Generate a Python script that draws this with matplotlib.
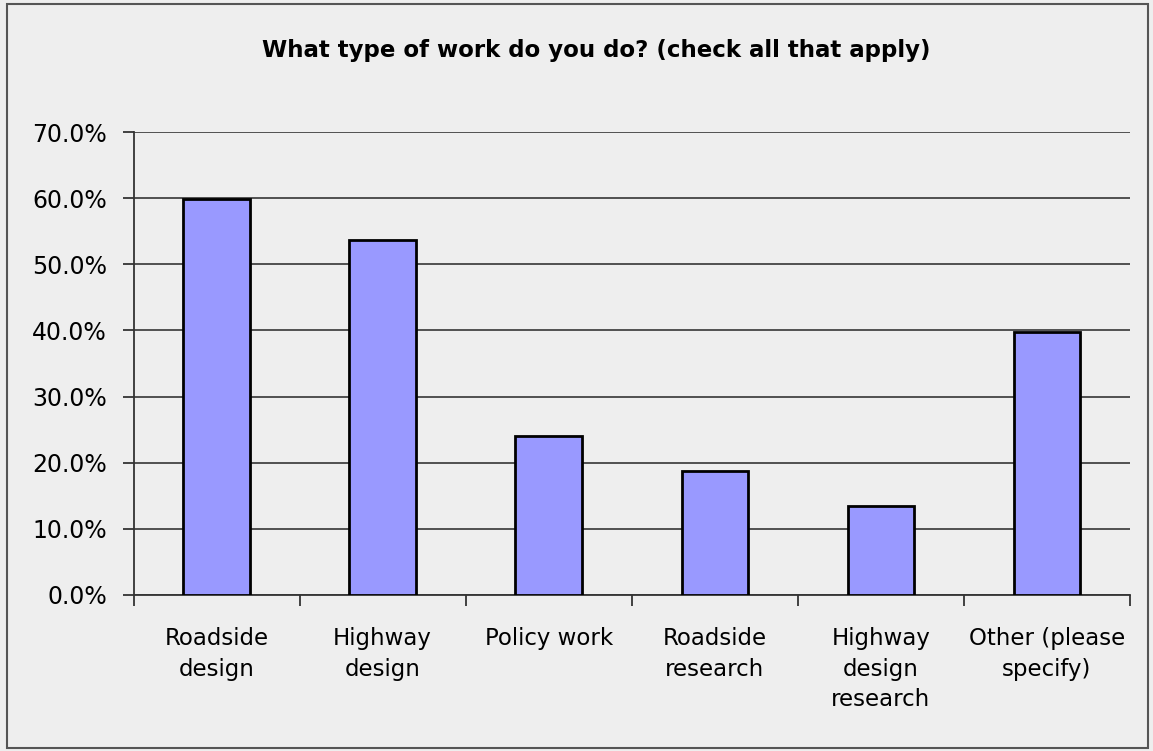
import matplotlib
matplotlib.use("Agg")
import matplotlib.pyplot as plt
from matplotlib.patches import Rectangle
from matplotlib.ticker import FuncFormatter, FixedLocator

categories = ["Roadside\ndesign", "Highway\ndesign", "Policy work", "Roadside\nresearch",
              "Highway\ndesign\nresearch", "Other (please\nspecify)"]
values = [59.8, 53.7, 24.0, 18.7, 13.5, 39.8]
title = "What type of work do you do? (check all that apply)"

bg = "#EEEEEE"
fig = plt.figure(figsize=(11.53, 7.51), dpi=100, facecolor=bg)
fig.patches.append(Rectangle((7/1153, 3/751), 1141/1153, 744/751, transform=fig.transFigure,
                             fill=False, edgecolor="#555555", linewidth=1.5))
ax = fig.add_axes([133.5/1153, 1-595/751, (1130-133.5)/1153, (595-132)/751])
ax.set_facecolor(bg)

x = list(range(len(categories)))
ax.bar(x, values, width=0.4, color="#9999FF", edgecolor="black", linewidth=2, zorder=3)
ax.set_xlim(-0.5, len(categories) - 0.5)
ax.set_ylim(0, 70)
ax.set_yticks([0, 10, 20, 30, 40, 50, 60, 70])
ax.yaxis.set_major_formatter(FuncFormatter(lambda v, p: f"{v:.1f}%"))
ax.yaxis.grid(True, color="#444444", linewidth=1.3, zorder=0)
ax.set_axisbelow(True)

ax.xaxis.set_major_locator(FixedLocator([i - 0.5 for i in range(len(categories) + 1)]))
ax.xaxis.set_minor_locator(FixedLocator(x))
ax.set_xticklabels([])
ax.set_xticklabels(categories, minor=True)
ax.tick_params(axis="x", which="minor", length=0, pad=23, labelsize=16.5)
ax.tick_params(axis="x", which="major", length=8, width=1.3, color="#333333", direction="out")
ax.tick_params(axis="y", length=8, width=1.3, color="#333333", direction="out", labelsize=17, pad=11)
for lbl in ax.get_xticklabels(minor=True):
    lbl.set_linespacing(1.42)

for s in ["top", "right"]:
    ax.spines[s].set_visible(False)
for s in ["left", "bottom"]:
    ax.spines[s].set_color("#333333")
    ax.spines[s].set_linewidth(1.3)

fig.text(596/1153, 1-50/751, title, ha="center", va="center", fontsize=16.5, fontweight="bold")

fig.savefig("out.png", dpi=100, facecolor=bg)
